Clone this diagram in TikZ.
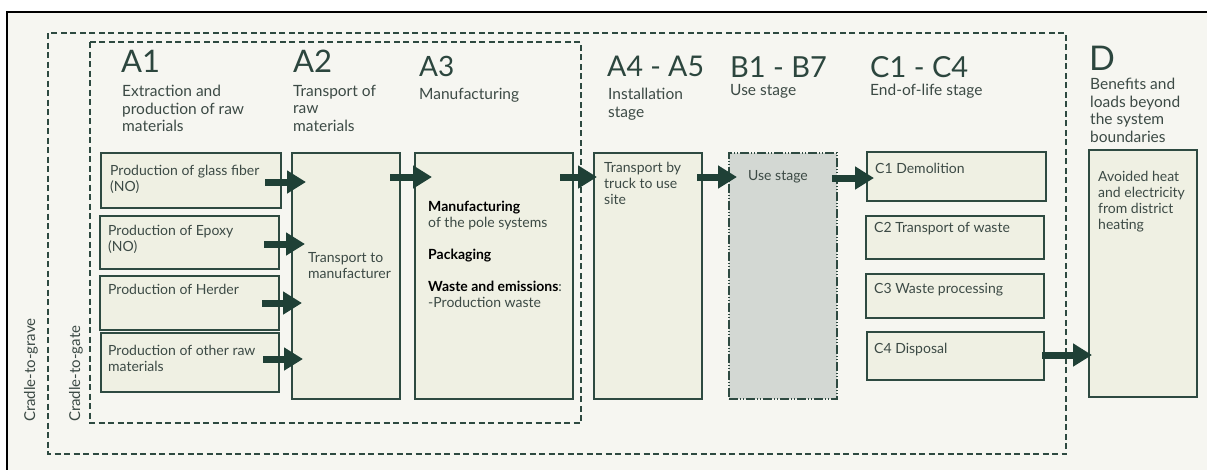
\documentclass[tikz,border=0pt]{standalone}
\usepackage{fontspec}
\setmainfont{Lato}
\newfontfamily\lightfont{Lato}
\usetikzlibrary{arrows.meta,calc}
\definecolor{bg}{HTML}{F6F6F1}
\definecolor{boxfill}{HTML}{EFF0E3}
\definecolor{edge}{HTML}{2E4A41}
\definecolor{txt}{HTML}{3C4A45}
\definecolor{headc}{HTML}{2C463E}
\definecolor{arrowc}{HTML}{1F4036}
\definecolor{usefill}{HTML}{D3D8D3}
\begin{document}
\begin{tikzpicture}[x=1pt,y=-1pt,
  stagebox/.style={draw=edge, fill=boxfill, line width=1.4pt, anchor=north west, inner sep=0pt, outer sep=0pt},
  usebox/.style={stagebox, fill=usefill, dash pattern=on 9pt off 2pt on 1pt off 2pt on 1pt off 2pt},
  body/.style={font=\fontsize{14}{16}\selectfont, text=txt, align=left, inner sep=0pt, anchor=north west},
  headA/.style={font=\lightfont\fontsize{31}{36}\selectfont, text=headc, inner sep=0pt, anchor=north west},
  subt/.style={font=\fontsize{15.5}{17.5}\selectfont, text=txt, align=left, inner sep=0pt, anchor=north west},
  boundary/.style={draw=edge, line width=1.5pt, dash pattern=on 6pt off 3.5pt},
  bigarrow/.style={draw=arrowc, line width=7pt, -{Triangle[length=19pt,width=22pt]}},
  sidelbl/.style={font=\fontsize{15}{15}\selectfont, text=txt, rotate=90, inner sep=0pt, anchor=west}
]
\useasboundingbox (0,0) rectangle (1207,469);
\fill[white] (0,0) rectangle (1207,469);
\draw[line width=2.5pt, fill=bg] (7,12) rectangle (1220,480);

% boundaries
\draw[boundary] (48,33) rectangle (1066,454);
\draw[boundary] (90,42) rectangle (581,423);
\node[sidelbl] (grave) at (31,422) {Cradle-to-grave};
\node[sidelbl] (gate) at (76,422) {Cradle-to-gate};

% headings
\node[headA, font=\lightfont\fontsize{31}{36}\selectfont] (hA1) at (121,50) {A1};
\node[headA] (hA2) at (293,50) {A2};
\node[headA, font=\lightfont\fontsize{28}{36}\selectfont] (hA3) at (419,56) {A3};
\node[headA, font=\lightfont\fontsize{28.5}{36}\selectfont] (hA4) at (607,56) {A4 - A5};
\node[headA, font=\lightfont\fontsize{29}{36}\selectfont] (hB) at (730,56) {B1 - B7};
\node[headA, font=\lightfont\fontsize{29}{36}\selectfont] (hC) at (870,56) {C1 - C4};
\node[headA, font=\lightfont\fontsize{34}{36}\selectfont] (hD) at (1089,46) {D};

\node[subt] (sA1) at (122,85) {Extraction and\\production of raw\\materials};
\node[subt] (sA2) at (293,85) {Transport of\\raw\\materials};
\node[subt] (sA3) at (419,88) {Manufacturing};
\node[subt] (sA4) at (608,88) {Installation\\stage};
\node[subt] (sB) at (730,84) {Use stage};
\node[subt] (sC) at (870,84) {End-of-life stage};
\node[subt] (sD) at (1090,78) {Benefits and\\loads beyond\\the system\\boundaries};

% boxes
\node[stagebox, minimum width=180pt, minimum height=55pt] (g1) at (101,153) {};
\node[stagebox, minimum width=179pt, minimum height=53pt] (g2) at (100,216) {};
\node[stagebox, minimum width=179pt, minimum height=54pt] (g3) at (100,276) {};
\node[stagebox, minimum width=178pt, minimum height=59pt] (g4) at (101,333) {};
\node[stagebox, minimum width=108pt, minimum height=246pt] (a2) at (292,153) {};
\node[stagebox, minimum width=158pt, minimum height=246pt] (a3) at (415,153) {};
\node[stagebox, minimum width=108pt, minimum height=246pt] (a4) at (594,153) {};
\node[usebox, minimum width=108pt, minimum height=246pt] (b) at (729,153) {};
\node[stagebox, minimum width=179pt, minimum height=49pt] (c1) at (867,152) {};
\node[stagebox, minimum width=178pt, minimum height=43pt] (c2) at (866,216) {};
\node[stagebox, minimum width=178pt, minimum height=44pt] (c3) at (866,274) {};
\node[stagebox, minimum width=177pt, minimum height=48pt] (c4) at (867,332) {};
\node[stagebox, minimum width=108pt, minimum height=247pt] (d) at (1089,150) {};

% box texts
\node[body] (tg1) at (110,165) {Production of glass fiber\\(NO)};
\node[body] (tg2) at (108,225) {Production of Epoxy\\(NO)};
\node[body] (tg3) at (108,284) {Production of Herder};
\node[body] (tg4) at (108,345) {Production of other raw\\materials};
\node[body] (ta2) at (308,252) {Transport to\\manufacturer};
\node[body] (ta3) at (428,201) {\textbf{\color{black}Manufacturing}\\of the pole systems\\[16pt]\textbf{\color{black}Packaging}\\[16pt]\textbf{\color{black}Waste and emissions}:\\-Production waste};
\node[body] (ta4) at (604,162) {Transport by\\truck to use\\site};
\node[body] (tb) at (748,170) {Use stage};
\node[body] (tc1) at (875,163) {C1 Demolition};
\node[body] (tc2) at (874,222) {C2 Transport of waste};
\node[body] (tc3) at (874,283) {C3 Waste processing};
\node[body] (tc4) at (874,343) {C4 Disposal};
\node[body] (td) at (1098,171) {Avoided heat\\and electricity\\from district\\heating};

% arrows
\draw[bigarrow] ($(g1.east)+(-16,1.5)$) -- ($(g1.east -| a2.west)+(14,1.5)$);
\draw[bigarrow] ($(g2.east)+(-15,1.5)$) -- ($(g2.east -| a2.west)+(13,1.5)$);
\draw[bigarrow] ($(g3.east)+(-17,0)$) -- ($(g3.east -| a2.west)+(10,0)$);
\draw[bigarrow] ($(g4.east)+(-16,-3.5)$) -- ($(g4.east -| a2.west)+(11,-3.5)$);
\draw[bigarrow] ($(a2.north east)+(-10,24)$) -- ($(a3.north west)+(17,24)$);
\draw[bigarrow] ($(a3.north east)+(-13,24)$) -- ($(a4.north west)+(3,24)$);
\draw[bigarrow] ($(a4.north east)+(-5,24)$) -- ($(b.north west)+(8,24)$);
\draw[bigarrow] ($(b.north east)+(-5,25)$) -- ($(c1.west)+(7,1.5)$);
\draw[bigarrow] ($(c4.east)+(-2,-1)$) -- ($(c4.east -| d.west)+(3,-1)$);
\end{tikzpicture}
\end{document}
